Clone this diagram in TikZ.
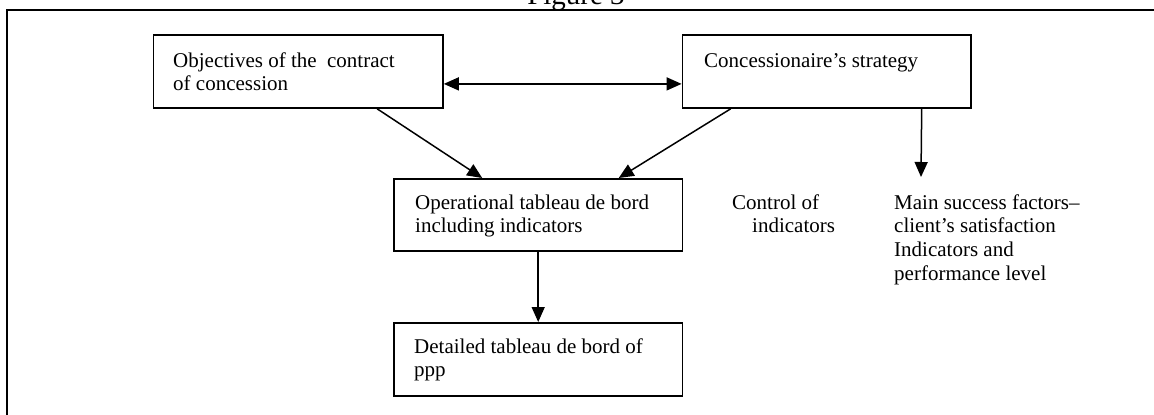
\documentclass[tikz,border=0pt]{standalone}
\usepackage{fontspec}
\setmainfont{Liberation Serif}
\usetikzlibrary{arrows.meta}
\begin{document}
\begin{tikzpicture}[x=1pt,y=-1pt,
  >={Triangle[length=15pt,width=13pt]},
  box/.style={draw, line width=1.8pt, fill=white, anchor=north west, inner sep=0pt},
  lbl/.style={anchor=base west, inner sep=0pt, font=\fontsize{21}{23.8}\selectfont},
  conn/.style={line width=1.5pt, ->},
  frame/.style={line width=2pt}
]
\useasboundingbox (0,0) rectangle (1154,415);
\clip (0,0) rectangle (1154,415);

% title (cut off at top, as in the reference)
\node[anchor=base, inner sep=0pt, font=\fontsize{29}{34}\selectfont] (title) at (576,4.5) {Figure 3};

% frame
\draw[frame] (7,425) -- (7,10) -- (1165,10);

% boxes
\node[box, minimum width=289.5pt, minimum height=73pt] (b1) at (152.5,34) {};
\node[box, minimum width=288.4pt, minimum height=73pt] (b2) at (681.6,34) {};
\node[box, minimum width=288.6pt, minimum height=72pt] (b3) at (393,178) {};
\node[box, minimum width=288.6pt, minimum height=73pt] (b4) at (393,322) {};

% texts
\node[lbl] (t1) at (173,67) {\vtop{\hbox{Objectives of the\ \ contract}\hbox{of concession}}};
\node[lbl] (t2) at (704,67) {Concessionaire’s strategy};
\node[lbl] (t3) at (415,209) {\vtop{\hbox{Operational tableau de bord}\hbox{including indicators}}};
\node[lbl] (t4) at (732,209) {\vtop{\hbox{Control of}\hbox{\kern20pt indicators}}};
\node[lbl] (t5) at (894,209) {\vtop{\hbox{Main success factors–}\hbox{client’s satisfaction}\hbox{Indicators and}\hbox{performance level}}};
\node[lbl] (t6) at (414,353) {\vtop{\hbox{Detailed tableau de bord of}\hbox{ppp}}};

\coordinate (e) at (921,177);

% connectors
\draw[conn, <->] ([yshift=-12.5pt]b1.east) -- ([yshift=-12.5pt]b2.west);
\draw[conn] ([xshift=79pt]b1.south) -- ([xshift=-56pt]b3.north);
\draw[conn] ([xshift=-96pt]b2.south) -- ([xshift=80.5pt]b3.north);
\draw[conn] ([xshift=95pt]b2.south) -- (e);
\draw[conn] (b3.south) -- (b4.north);
\end{tikzpicture}
\end{document}
